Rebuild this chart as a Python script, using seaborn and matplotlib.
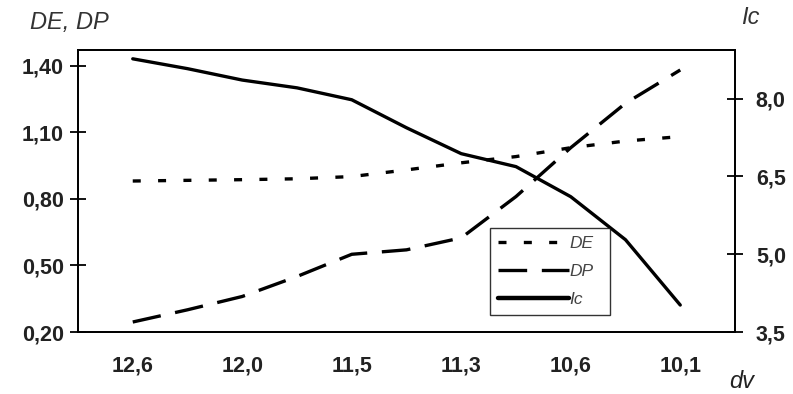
import numpy as np
import seaborn as sns
import matplotlib.pyplot as plt
from matplotlib.lines import Line2D

# x categories (dv) and readings every half category
dv_labels = ['12,6', '12,0', '11,5', '11,3', '10,6', '10,1']
pos = [0, 0.5, 1, 1.5, 2, 2.5, 3, 3.5, 4, 4.5, 5]

de = [0.88, 0.883, 0.886, 0.89, 0.90, 0.93, 0.962, 0.99, 1.03, 1.06, 1.08]
dp = [0.245, 0.30, 0.36, 0.45, 0.55, 0.57, 0.624, 0.81, 1.03, 1.23, 1.38]
ic = [8.77, 8.58, 8.36, 8.21, 7.98, 7.44, 6.94, 6.69, 6.11, 5.28, 4.02]

left_ticks = [0.20, 0.50, 0.80, 1.10, 1.40]
right_ticks = [3.5, 5.0, 6.5, 8.0]

sns.set_style('white')
plt.rcParams['font.family'] = ['Liberation Sans', 'DejaVu Sans']

fig = plt.figure(figsize=(7.93, 3.94), dpi=100)
ax = fig.add_axes([78 / 793, 62 / 394, 657 / 793, 282 / 394])
ax2 = ax.twinx()

de_style = (0, (2.4, 5.2))
dp_style = (0, (8.6, 4.4))
sns.lineplot(x=pos, y=de, ax=ax, color='black', lw=2.4, linestyle=de_style)
sns.lineplot(x=pos, y=dp, ax=ax, color='black', lw=2.4, linestyle=dp_style)
sns.lineplot(x=pos, y=ic, ax=ax2, color='black', lw=2.4)

ax.set_xlim(-0.5, 5.5)
ax.set_ylim(0.20, 1.47)
ax2.set_ylim(3.5, 8.94)

ax.set_xticks(range(len(dv_labels)))
ax.set_xticklabels(dv_labels)
ax.set_xticks(np.arange(-0.5, 5.6, 1), minor=True)
ax.tick_params(axis='x', which='major', length=0, pad=17)
ax.tick_params(axis='x', which='minor', direction='inout', length=9, width=1.3, color='black')

ax.set_yticks(left_ticks)
ax.set_yticklabels([f'{v:.2f}'.replace('.', ',') for v in left_ticks])
ax.tick_params(axis='y', direction='inout', length=12, width=1.3, color='black', pad=4, left=True)
ax2.set_yticks(right_ticks)
ax2.set_yticklabels([f'{v:.1f}'.replace('.', ',') for v in right_ticks])
ax2.tick_params(axis='y', direction='inout', length=12, width=1.3, color='black', pad=9, right=True)

for a in (ax, ax2):
    for lab in a.get_xticklabels() + a.get_yticklabels():
        lab.set_fontsize(15.5)
        lab.set_fontweight('bold')
        lab.set_color('#222222')
    for sp in a.spines.values():
        sp.set_color('black')
        sp.set_linewidth(1.3)

fig.text(30 / 793, 1 - 23 / 394, 'DE, DP', fontsize=17, style='italic', color='#333333', va='center')
fig.text(741 / 793, 1 - 18 / 394, 'Ic', fontsize=17, style='italic', color='#333333', va='center')
fig.text(729 / 793, 1 - 381 / 394, 'dv', fontsize=17, style='italic', color='#222222', va='center')

handles = [
    Line2D([], [], color='black', lw=2.4, linestyle=de_style),
    Line2D([], [], color='black', lw=2.4, linestyle=dp_style),
    Line2D([], [], color='black', lw=3.2),
]
leg = ax.legend(handles, ['DE', 'DP', 'Ic'], loc='lower left',
                bbox_to_anchor=(0.627, 0.06, 0.183, 0.31), mode='expand', borderaxespad=0,
                frameon=True, fancybox=False, handlelength=4.1, handletextpad=0.05,
                borderpad=0.45, labelspacing=0.75, prop={'size': 12.5, 'style': 'italic'})
leg.get_frame().set_edgecolor('black')
leg.get_frame().set_linewidth(1.0)
for t in leg.get_texts():
    t.set_color('#444444')
leg.set_zorder(5)
ax.set_zorder(ax2.get_zorder() + 1)
ax.patch.set_visible(False)

fig.savefig('out.png', dpi=100)
